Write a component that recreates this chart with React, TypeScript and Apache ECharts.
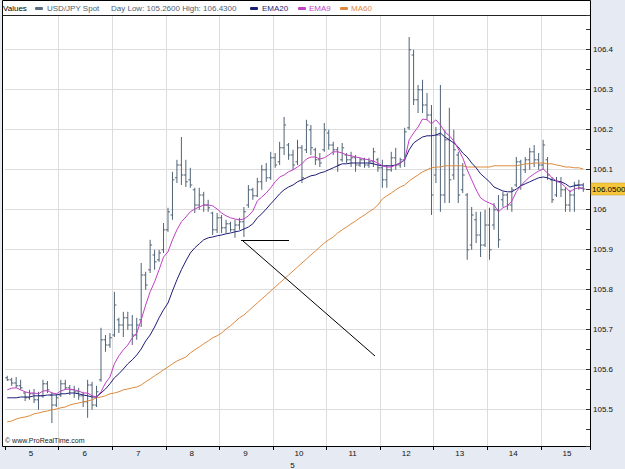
import React, { useEffect, useRef } from 'react';
import * as echarts from 'echarts';

const days = [5, 6, 7, 8, 9, 10, 11, 12, 13, 14, 15];
const monthLabel = '5';
const barsPerDay = 12;
const totalSlots = 131;

const opens = [
  105.578, 105.573, 105.565, 105.558, 105.540, 105.528, 105.538, 105.523, 105.533, 105.563, 105.535, 105.510,
  105.535, 105.563, 105.553, 105.548, 105.543, 105.533, 105.518, 105.560, 105.510, 105.573, 105.673, 105.660,
  105.685, 105.723, 105.710, 105.728, 105.710, 105.685, 105.723, 105.835, 105.848, 105.885, 105.873, 105.898,
  105.948, 105.985, 106.078, 106.110, 106.085, 106.073, 106.048, 106.010, 106.035, 106.010, 105.990, 105.948,
  105.978, 105.953, 105.963, 105.948, 105.960, 105.968, 106.010, 106.048, 106.033, 106.068, 106.098, 106.078,
  106.128, 106.118, 106.153, 106.160, 106.135, 106.118, 106.153, 106.148, 106.198, 106.148, 106.123, 106.148,
  106.190, 106.160, 106.148, 106.123, 106.135, 106.123, 106.128, 106.110, 106.123, 106.110, 106.118, 106.123,
  106.103, 106.073, 106.098, 106.128, 106.110, 106.123, 106.203, 106.385, 106.273, 106.298, 106.260, 106.235,
  106.085, 106.185, 106.035, 106.173, 106.085, 106.135, 106.048, 106.035, 105.910, 105.973, 105.935, 105.910,
  105.960, 105.960, 105.998, 106.023, 106.035, 106.010, 106.060, 106.118, 106.098, 106.123, 106.143, 106.123,
  106.110, 106.123, 106.073, 106.035, 106.068, 106.048, 106.010, 106.035, 106.060, 106.053,
];
const highs = [
  105.583, 105.578, 105.580, 105.573, 105.543, 105.548, 105.550, 105.543, 105.573, 105.570, 105.543, 105.538,
  105.573, 105.573, 105.560, 105.558, 105.553, 105.543, 105.573, 105.568, 105.558, 105.703, 105.685, 105.690,
  105.793, 105.728, 105.743, 105.743, 105.735, 105.728, 105.865, 105.843, 105.923, 105.898, 105.898, 105.965,
  106.003, 106.093, 106.123, 106.180, 106.123, 106.103, 106.053, 106.053, 106.043, 106.023, 105.993, 105.990,
  105.985, 105.973, 105.968, 105.973, 105.978, 106.005, 106.060, 106.053, 106.078, 106.110, 106.115, 106.143,
  106.140, 106.168, 106.230, 106.165, 106.148, 106.173, 106.160, 106.223, 106.210, 106.153, 106.140, 106.215,
  106.198, 106.168, 106.155, 106.165, 106.140, 106.143, 106.135, 106.128, 106.128, 106.128, 106.153, 106.128,
  106.123, 106.110, 106.143, 106.153, 106.128, 106.203, 106.430, 106.398, 106.310, 106.323, 106.290, 106.260,
  106.205, 106.310, 106.198, 106.253, 106.198, 106.143, 106.115, 106.040, 106.005, 105.993, 105.993, 105.998,
  106.003, 106.015, 106.035, 106.043, 106.040, 106.055, 106.130, 106.123, 106.130, 106.153, 106.160, 106.140,
  106.173, 106.130, 106.080, 106.080, 106.080, 106.055, 106.048, 106.068, 106.073, 106.065,
];
const lows = [
  105.570, 105.558, 105.553, 105.548, 105.520, 105.523, 105.515, 105.498, 105.528, 105.540, 105.465, 105.505,
  105.530, 105.548, 105.535, 105.528, 105.523, 105.505, 105.478, 105.498, 105.505, 105.568, 105.643, 105.653,
  105.680, 105.690, 105.680, 105.698, 105.660, 105.673, 105.705, 105.798, 105.840, 105.848, 105.868, 105.890,
  105.943, 105.973, 106.065, 106.060, 106.055, 106.053, 105.990, 105.998, 105.993, 105.993, 105.935, 105.940,
  105.940, 105.940, 105.943, 105.928, 105.948, 105.930, 106.003, 106.023, 106.030, 106.048, 106.068, 106.073,
  106.103, 106.110, 106.135, 106.123, 106.098, 106.110, 106.065, 106.140, 106.135, 106.110, 106.105, 106.143,
  106.148, 106.135, 106.093, 106.118, 106.115, 106.105, 106.093, 106.105, 106.103, 106.103, 106.105, 106.093,
  106.053, 106.053, 106.093, 106.098, 106.103, 106.105, 106.198, 106.260, 106.240, 106.240, 106.223, 105.985,
  106.065, 105.993, 106.015, 106.015, 106.073, 106.015, 106.040, 105.873, 105.898, 105.915, 105.880, 105.905,
  105.873, 105.948, 105.903, 106.005, 105.998, 105.993, 106.055, 106.048, 106.090, 106.098, 106.105, 106.098,
  106.098, 106.073, 106.015, 106.030, 106.030, 105.993, 105.993, 105.993, 106.048, 106.043,
];
const closes = [
  105.573, 105.565, 105.558, 105.553, 105.528, 105.538, 105.523, 105.533, 105.563, 105.548, 105.510, 105.528,
  105.563, 105.553, 105.548, 105.543, 105.533, 105.518, 105.560, 105.510, 105.543, 105.673, 105.660, 105.678,
  105.760, 105.710, 105.728, 105.710, 105.685, 105.710, 105.835, 105.810, 105.910, 105.868, 105.890, 105.948,
  105.993, 106.073, 106.110, 106.085, 106.068, 106.060, 106.010, 106.035, 106.010, 106.003, 105.948, 105.978,
  105.953, 105.963, 105.948, 105.960, 105.968, 105.993, 106.048, 106.033, 106.068, 106.098, 106.078, 106.128,
  106.110, 106.153, 106.210, 106.135, 106.110, 106.153, 106.078, 106.210, 106.153, 106.123, 106.115, 106.198,
  106.160, 106.148, 106.110, 106.153, 106.123, 106.128, 106.110, 106.123, 106.110, 106.118, 106.143, 106.103,
  106.073, 106.098, 106.128, 106.110, 106.123, 106.193, 106.398, 106.273, 106.298, 106.260, 106.235, 106.035,
  106.185, 106.035, 106.173, 106.073, 106.148, 106.035, 106.085, 105.898, 105.985, 105.935, 105.910, 105.960,
  105.898, 105.998, 105.923, 106.035, 106.010, 106.048, 106.118, 106.060, 106.123, 106.143, 106.123, 106.110,
  106.160, 106.085, 106.023, 106.068, 106.048, 106.010, 106.035, 106.060, 106.053, 106.050,
];
const ema9 = [
  105.548, 105.552, 105.553, 105.548, 105.543, 105.540, 105.540, 105.538, 105.545, 105.546, 105.540, 105.538,
  105.545, 105.549, 105.550, 105.548, 105.545, 105.540, 105.540, 105.533, 105.530, 105.543, 105.565, 105.580,
  105.613, 105.633, 105.648, 105.660, 105.678, 105.690, 105.723, 105.760, 105.793, 105.818, 105.848, 105.880,
  105.893, 105.923, 105.948, 105.968, 105.980, 105.993, 106.000, 106.005, 106.010, 106.010, 106.008, 106.000,
  105.990, 105.983, 105.978, 105.975, 105.973, 105.975, 105.983, 105.995, 106.020, 106.030, 106.040, 106.053,
  106.068, 106.080, 106.085, 106.093, 106.098, 106.105, 106.113, 106.125, 106.130, 106.130, 106.125, 106.128,
  106.135, 106.143, 106.143, 106.140, 106.135, 106.133, 106.130, 106.128, 106.125, 106.123, 106.120, 106.115,
  106.108, 106.105, 106.105, 106.110, 106.115, 106.123, 106.173, 106.190, 106.205, 106.225, 106.223, 106.213,
  106.223, 106.210, 106.193, 106.183, 106.170, 106.150, 106.128, 106.098, 106.073, 106.048, 106.028, 106.020,
  106.015, 106.010, 105.993, 106.003, 106.008, 106.020, 106.043, 106.058, 106.070, 106.080, 106.088, 106.095,
  106.100, 106.090, 106.078, 106.070, 106.065, 106.055, 106.043, 106.050, 106.053, 106.050,
];
const ema20 = [
  105.528, 105.528, 105.528, 105.530, 105.530, 105.530, 105.533, 105.533, 105.533, 105.535, 105.535, 105.535,
  105.538, 105.538, 105.540, 105.540, 105.538, 105.535, 105.533, 105.530, 105.530, 105.540, 105.550, 105.563,
  105.578, 105.588, 105.600, 105.613, 105.623, 105.635, 105.650, 105.670, 105.685, 105.705, 105.728, 105.748,
  105.765, 105.795, 105.823, 105.848, 105.870, 105.890, 105.903, 105.913, 105.923, 105.928, 105.930, 105.933,
  105.935, 105.938, 105.940, 105.943, 105.945, 105.950, 105.955, 105.963, 105.978, 105.988, 106.000, 106.013,
  106.025, 106.038, 106.048, 106.055, 106.060, 106.068, 106.073, 106.078, 106.083, 106.085, 106.090, 106.093,
  106.098, 106.103, 106.108, 106.113, 106.113, 106.115, 106.115, 106.115, 106.115, 106.115, 106.113, 106.110,
  106.108, 106.108, 106.108, 106.110, 106.115, 106.123, 106.148, 106.165, 106.173, 106.180, 106.183, 106.183,
  106.185, 106.190, 106.180, 106.173, 106.165, 106.155, 106.140, 106.130, 106.115, 106.103, 106.088, 106.078,
  106.068, 106.055, 106.050, 106.045, 106.043, 106.043, 106.050, 106.058, 106.063, 106.068, 106.073, 106.078,
  106.080, 106.078, 106.073, 106.070, 106.068, 106.063, 106.055, 106.058, 106.060, 106.060,
];
const ma60 = [
  105.468, 105.470, 105.475, 105.478, 105.480, 105.483, 105.488, 105.490, 105.493, 105.495, 105.498, 105.500,
  105.503, 105.505, 105.510, 105.513, 105.515, 105.518, 105.520, 105.523, 105.528, 105.530, 105.533, 105.538,
  105.540, 105.543, 105.548, 105.550, 105.553, 105.555, 105.560, 105.568, 105.575, 105.583, 105.590, 105.598,
  105.605, 105.613, 105.620, 105.625, 105.630, 105.640, 105.648, 105.655, 105.663, 105.670, 105.678, 105.683,
  105.690, 105.700, 105.708, 105.718, 105.728, 105.735, 105.745, 105.755, 105.765, 105.775, 105.785, 105.795,
  105.805, 105.815, 105.825, 105.835, 105.845, 105.855, 105.865, 105.875, 105.885, 105.895, 105.905, 105.915,
  105.923, 105.930, 105.940, 105.948, 105.955, 105.963, 105.970, 105.978, 105.985, 105.993, 106.000, 106.010,
  106.025, 106.033, 106.040, 106.048, 106.055, 106.060, 106.070, 106.078, 106.085, 106.093, 106.098, 106.103,
  106.105, 106.105, 106.108, 106.108, 106.108, 106.108, 106.108, 106.105, 106.105, 106.105, 106.105, 106.105,
  106.105, 106.108, 106.108, 106.108, 106.108, 106.108, 106.108, 106.110, 106.113, 106.113, 106.115, 106.115,
  106.115, 106.113, 106.113, 106.110, 106.108, 106.105, 106.105, 106.103, 106.103, 106.100,
];
const dayLow = 105.26;
const dayHigh = 106.43;
const yMin = 105.4075;
const yMax = 106.485;

const FONT = '"Liberation Sans", Arial, sans-serif';
const BAR_COLOR = '#4f6376';
const EMA20_COLOR = '#1e1e78';
const EMA9_COLOR = '#c23fc6';
const MA60_COLOR = '#dd8a3c';

export default function App() {
  const ref = useRef<HTMLDivElement>(null);
  useEffect(() => {
    if (!ref.current) return;
    const chart = echarts.init(ref.current, null, { renderer: 'svg' });

    const categories: string[] = [];
    for (let s = 0; s < totalSlots; s++) {
      const d = days[Math.floor(s / barsPerDay)];
      const h = (s % barsPerDay) * 2;
      categories.push(`${d} ${String(h).padStart(2, '0')}:00`);
    }
    const labelSet = new Set<number>();
    days.forEach((_, k) => {
      const start = k * barsPerDay;
      const end = Math.min(totalSlots, start + barsPerDay);
      labelSet.add(Math.round((start + end) / 2));
    });

    const ohlc = opens.map((o, i) => [i, o, highs[i], lows[i], closes[i]]);
    const lastClose = closes[closes.length - 1];

    const txt = (x: number, text: string, fill: string) => ({
      type: 'text', x, y: 8.5, silent: true,
      style: { text, fill, fontSize: 8, fontFamily: FONT, verticalAlign: 'middle', align: 'left' },
    });
    const sq = (x: number, fill: string) => ({
      type: 'rect', silent: true, shape: { x, y: 7, width: 8, height: 3, r: 1 }, style: { fill },
    });
    const baseGraphics: any[] = [
      {
        type: 'rect', silent: true, z: -100,
        shape: { x: 2.5, y: 0.5, width: 588, height: 446 },
        style: { fill: '#ffffff', stroke: '#000', lineWidth: 1 },
      },
      {
        type: 'line', silent: true,
        shape: { x1: 2.5, y1: 15.5, x2: 590.5, y2: 15.5 },
        style: { stroke: '#222', lineWidth: 1 },
      },
      txt(3, 'Values', '#000'),
      sq(35, '#5a6e82'),
      txt(47, 'USD/JPY Spot', '#4a5d70'),
      txt(111, `Day Low: ${dayLow.toFixed(4)} High: ${dayHigh.toFixed(4)}`, '#4e6074'),
      sq(250, EMA20_COLOR),
      txt(262, 'EMA20', EMA20_COLOR),
      sq(298, EMA9_COLOR),
      txt(309, 'EMA9', EMA9_COLOR),
      sq(340, MA60_COLOR),
      txt(351, 'MA60', MA60_COLOR),
      {
        type: 'text', x: 5, y: 440, silent: true,
        style: { text: '© www.ProRealTime.com', fill: '#222', fontSize: 7, fontFamily: FONT, verticalAlign: 'middle' },
      },
      {
        type: 'line', silent: true, z: 50,
        shape: { x1: 241, y1: 240.5, x2: 289, y2: 240.5 },
        style: { stroke: '#000', lineWidth: 1 },
      },
      {
        type: 'line', silent: true, z: 50,
        shape: { x1: 243, y1: 241, x2: 375, y2: 356 },
        style: { stroke: '#000', lineWidth: 1 },
      },
    ];

    const option: any = {
      animation: false,
      backgroundColor: '#e6eaf2',
      textStyle: { fontFamily: FONT },
      grid: { left: 5, right: 35, top: 15, bottom: 23, containLabel: false, outerBoundsMode: 'none' },
      xAxis: {
        type: 'category',
        data: categories,
        boundaryGap: true,
        axisLine: { show: true, lineStyle: { color: '#000', width: 1 } },
        axisTick: {
          show: true,
          interval: (i: number) => i % barsPerDay === 0,
          length: 4,
          lineStyle: { color: '#000' },
        },
        axisLabel: {
          interval: (i: number) => labelSet.has(i),
          formatter: (v: string) => v.split(' ')[0],
          fontSize: 8,
          color: '#111',
          margin: 3,
          padding: [0, 6, 0, 0],
          fontFamily: FONT,
        },
        splitLine: {
          show: true,
          interval: (i: number) => i % barsPerDay === 0 && i > 0,
          lineStyle: { color: '#dcdcdc', width: 1 },
        },
        name: monthLabel,
        nameLocation: 'middle',
        nameGap: 14,
        nameTextStyle: { fontSize: 8, color: '#111', fontFamily: FONT, padding: [0, 10, 0, 0] },
      },
      yAxis: {
        type: 'value',
        position: 'right',
        min: yMin,
        max: yMax,
        splitNumber: 10,
        axisLine: { show: true, lineStyle: { color: '#000' } },
        axisTick: { show: true, inside: true, length: 4, lineStyle: { color: '#333' } },
        minorTick: { show: true, splitNumber: 2, length: 4, lineStyle: { color: '#333' } },
        axisLabel: {
          fontSize: 8,
          color: '#111',
          margin: 3,
          fontFamily: FONT,
          showMinLabel: false,
          showMaxLabel: false,
          formatter: (v: number) => {
            const r = Math.round(v * 10) / 10;
            return Math.abs(v - r) < 1e-6 ? String(r) : '';
          },
        },
        splitLine: { show: true, lineStyle: { color: '#dcdcdc', width: 1 } },
      },
      graphic: baseGraphics,
      series: [
        {
          name: 'USD/JPY Spot',
          type: 'custom',
          data: ohlc,
          encode: { x: 0, y: [1, 2, 3, 4] },
          z: 2,
          renderItem: (params: any, api: any) => {
            const idx = api.value(0);
            const x = api.coord([idx, api.value(1)])[0];
            const yo = api.coord([idx, api.value(1)])[1];
            const yh = api.coord([idx, api.value(2)])[1];
            const yl = api.coord([idx, api.value(3)])[1];
            const yc = api.coord([idx, api.value(4)])[1];
            const st = { stroke: BAR_COLOR, lineWidth: 1 };
            return {
              type: 'group',
              children: [
                { type: 'line', shape: { x1: x, y1: yh, x2: x, y2: yl }, style: st },
                { type: 'line', shape: { x1: x - 2, y1: yo, x2: x, y2: yo }, style: st },
                { type: 'line', shape: { x1: x, y1: yc, x2: x + 2, y2: yc }, style: st },
              ],
            };
          },
        },
        {
          name: 'MA60', type: 'line', data: ma60, showSymbol: false, z: 3,
          lineStyle: { color: MA60_COLOR, width: 1 },
        },
        {
          name: 'EMA20', type: 'line', data: ema20, showSymbol: false, z: 4,
          lineStyle: { color: EMA20_COLOR, width: 1 },
        },
        {
          name: 'EMA9', type: 'line', data: ema9, showSymbol: false, z: 5,
          lineStyle: { color: EMA9_COLOR, width: 1 },
        },
      ],
    };
    chart.setOption(option);

    // price tag for the last close, positioned through the y axis scale
    const yPix = chart.convertToPixel({ yAxisIndex: 0 }, lastClose) as number;
    const tag: any[] = [
      {
        type: 'rect', silent: true, z: 60,
        shape: { x: 591, y: Math.round(yPix) - 6, width: 40, height: 12 },
        style: { fill: '#f6c73c', stroke: '#c9981c', lineWidth: 0.5 },
      },
      {
        type: 'text', silent: true, z: 61, x: 592, y: yPix,
        style: { text: lastClose.toFixed(4), fill: '#000', fontSize: 8, fontFamily: FONT, verticalAlign: 'middle', align: 'left' },
      },
    ];
    chart.setOption({ graphic: [...baseGraphics, ...tag] }, { replaceMerge: ['graphic'] });

    return () => chart.dispose();
  }, []);
  return <div ref={ref} style={{ width: 625, height: 469, position: 'absolute', left: 0, top: 0 }} />;
}
